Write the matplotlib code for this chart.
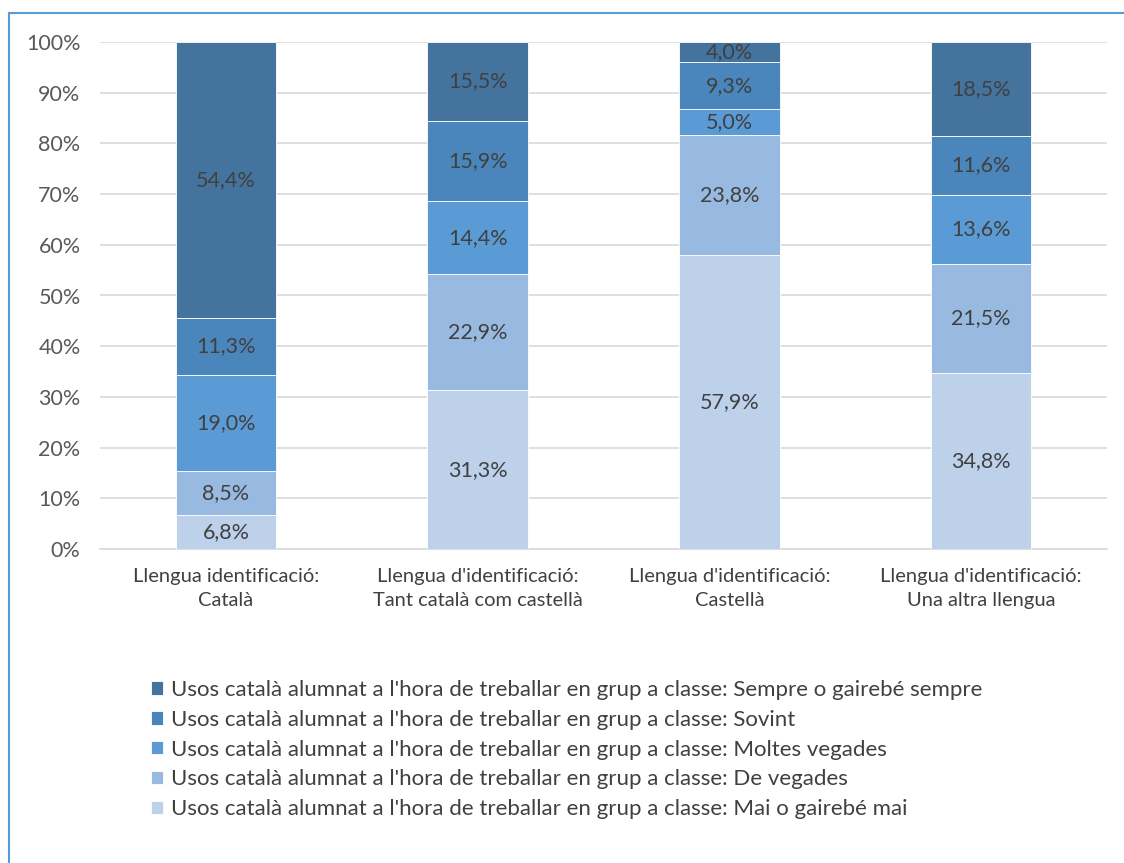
import matplotlib
matplotlib.use("Agg")
import matplotlib.pyplot as plt
from matplotlib.lines import Line2D
import numpy as np

plt.rcParams['font.family'] = ['Lato', 'DejaVu Sans']

categories = ["Llengua identificació:\nCatalà",
              "Llengua d'identificació:\nTant català com castellà",
              "Llengua d'identificació:\nCastellà",
              "Llengua d'identificació:\nUna altra llengua"]
series_names = [
    "Usos català alumnat a l'hora de treballar en grup a classe: Mai o gairebé mai",
    "Usos català alumnat a l'hora de treballar en grup a classe: De vegades",
    "Usos català alumnat a l'hora de treballar en grup a classe: Moltes vegades",
    "Usos català alumnat a l'hora de treballar en grup a classe: Sovint",
    "Usos català alumnat a l'hora de treballar en grup a classe: Sempre o gairebé sempre",
]
mai = [6.8, 31.3, 57.9, 34.8]
de_vegades = [8.5, 22.9, 23.8, 21.5]
moltes = [19.0, 14.4, 5.0, 13.6]
sovint = [11.3, 15.9, 9.3, 11.6]
sempre = [54.4, 15.5, 4.0, 18.5]
series = [mai, de_vegades, moltes, sovint, sempre]
colors = ["#BDD1EB", "#98B9E0", "#5B9BD5", "#4A86BC", "#44739E"]

fig = plt.figure(figsize=(11.24, 8.63), dpi=100)
ax = fig.add_axes([100/1124, 1-549/863, 1007/1124, 507/863])

x = np.arange(len(categories))
bottom = np.zeros(len(categories))
handles = []
for vals, col, name in zip(series, colors, series_names):
    vals = np.array(vals)
    bars = ax.bar(x, vals, 0.4, bottom=bottom, color=col, edgecolor='white',
                  linewidth=0.6, label=name, zorder=3)
    for xi, b, v in zip(x, bottom, vals):
        ax.text(xi, b + v/2, f"{v:.1f}".replace('.', ',') + "%", ha='center',
                va='center', fontsize=15.5, color='#404040', zorder=4)
    bottom += vals
    handles.append(bars)

ax.set_xlim(-0.5, 3.5)
ax.set_ylim(0, 100)
ax.set_yticks(np.arange(0, 101, 10))
ax.set_yticklabels([f"{v}%" for v in range(0, 101, 10)])
ax.yaxis.grid(True, color='#D9D9D9', linewidth=1.2, zorder=0)
ax.set_axisbelow(True)
for s in ['top', 'right', 'left']:
    ax.spines[s].set_visible(False)
ax.spines['bottom'].set_color('#D9D9D9')
ax.spines['bottom'].set_linewidth(1.2)
ax.tick_params(axis='y', length=0, labelsize=15.5, labelcolor='#595959', pad=14)
ax.tick_params(axis='x', length=0, labelsize=14.5, labelcolor='#404040', pad=14)
ax.set_xticks(x)
ax.set_xticklabels(categories, linespacing=1.45)

leg = fig.legend(handles[::-1], series_names[::-1], loc='upper left',
                 bbox_to_anchor=(131/1124, 1-660/863), frameon=False,
                 fontsize=16, handlelength=0.55, handleheight=0.55,
                 handletextpad=0.35, labelspacing=0.44, labelcolor='#404040')

# outer frame (left and top)
fig.add_artist(Line2D([9/1124, 9/1124], [0, 1-13/863], transform=fig.transFigure,
                      color='#5B9BD5', linewidth=1.5))
fig.add_artist(Line2D([9/1124, 1], [1-13/863, 1-13/863], transform=fig.transFigure,
                      color='#5B9BD5', linewidth=1.5))

fig.savefig("out.png", dpi=100)
